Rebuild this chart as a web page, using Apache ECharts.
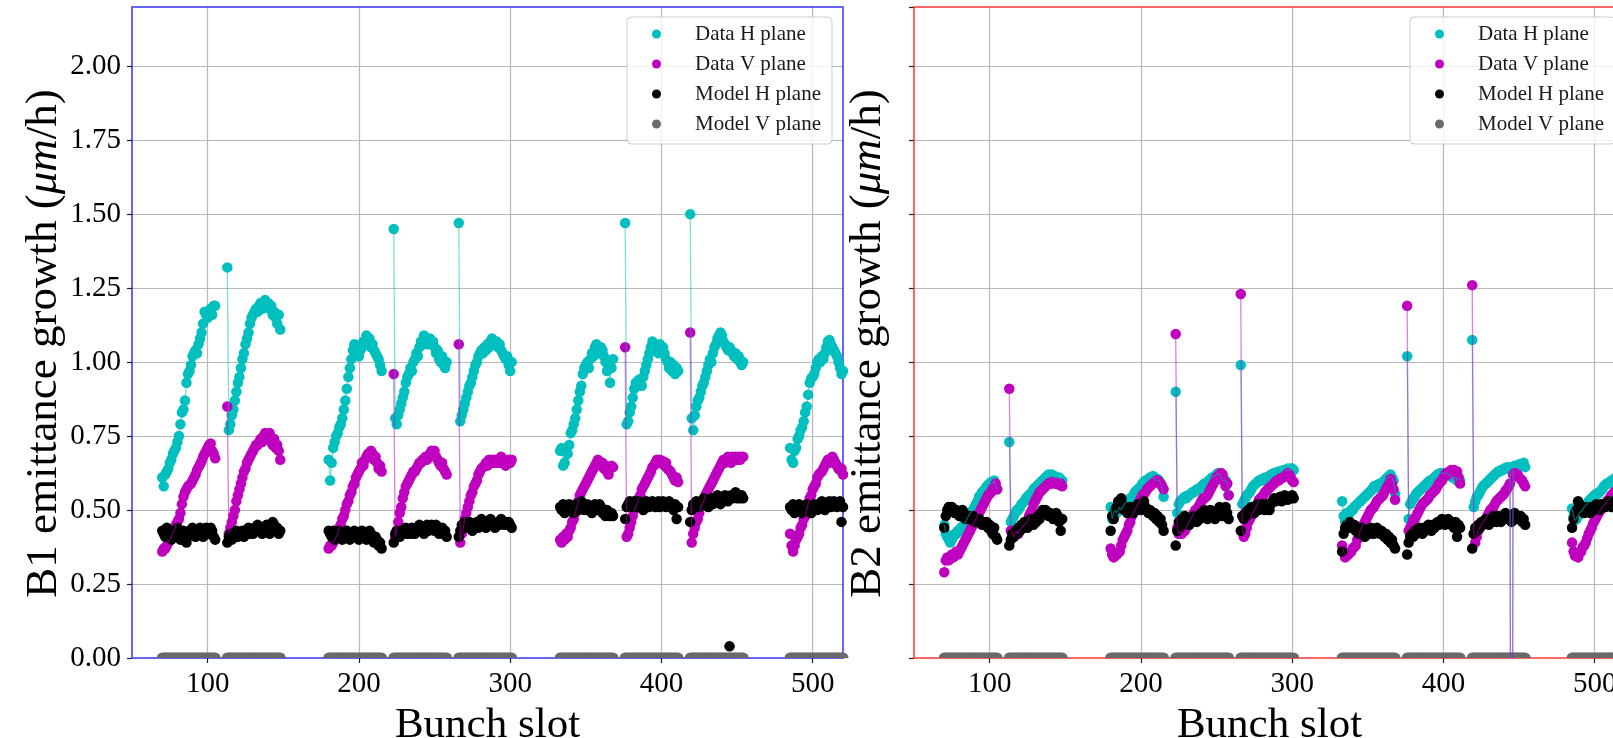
<!DOCTYPE html>
<html>
<head>
<meta charset="utf-8">
<script src="https://cdn.jsdelivr.net/npm/echarts@6/dist/echarts.min.js"></script>
<style>
  html, body { margin: 0; padding: 0; background: #ffffff; }
  #chart { width: 1613px; height: 738px; }
</style>
</head>
<body>
<div id="chart"></div>
<script>
// First bunch slot of each train (36 bunches per train)
const trainStarts = [70, 113, 180, 223, 266, 333, 376, 419, 485];
const xTicks = [100, 200, 300, 400, 500];
const legendNames = ['Data H plane', 'Data V plane', 'Model H plane', 'Model V plane'];

// ---- Beam 1 emittance growth (um/h), one row per train ----
const b1DataH = [
  [0.61,0.58,0.62,0.63,0.64,0.66,0.67,0.69,0.70,0.71,0.73,0.75,0.79,0.83,0.84,0.87,0.93,0.96,0.97,0.99,1.02,1.03,1.04,1.03,1.06,1.08,1.10,1.13,1.17,1.16,1.15,1.17,1.18,1.16,1.19,1.19],
  [1.32,0.77,0.79,0.82,0.84,0.87,0.90,0.93,0.95,0.98,1.01,1.03,1.06,1.08,1.10,1.13,1.15,1.16,1.17,1.18,1.17,1.19,1.20,1.18,1.20,1.21,1.19,1.20,1.18,1.19,1.16,1.17,1.15,1.13,1.16,1.11],
  [0.67,0.60,0.66,0.71,0.73,0.75,0.76,0.78,0.79,0.81,0.84,0.87,0.91,0.95,0.98,1.01,1.04,1.06,1.03,1.05,1.02,1.04,1.05,1.07,1.06,1.09,1.07,1.08,1.05,1.06,1.04,1.03,1.02,1.01,0.99,0.97],
  [1.45,0.81,0.79,0.82,0.84,0.86,0.88,0.90,0.93,0.95,0.96,0.98,0.97,1.00,1.01,1.03,1.02,1.05,1.07,1.06,1.09,1.08,1.06,1.07,1.08,1.06,1.07,1.05,1.03,1.04,1.01,1.00,1.02,0.99,0.98,1.00],
  [1.47,0.80,0.82,0.84,0.86,0.88,0.90,0.92,0.93,0.95,0.97,0.99,1.00,1.02,1.03,1.04,1.03,1.05,1.04,1.06,1.05,1.07,1.08,1.07,1.06,1.07,1.05,1.06,1.04,1.03,1.02,1.01,1.02,0.99,0.97,1.00],
  [0.70,0.71,0.65,0.66,0.70,0.69,0.72,0.76,0.77,0.79,0.81,0.84,0.87,0.90,0.92,0.96,0.98,0.99,1.00,0.98,1.01,1.03,1.02,1.05,1.06,1.04,1.03,1.05,1.04,1.02,1.00,0.97,0.99,0.93,0.98,1.01],
  [1.47,0.79,0.80,0.83,0.85,0.88,0.91,0.93,0.92,0.94,0.93,0.92,0.95,0.97,0.99,1.01,1.03,1.05,1.07,1.06,1.04,1.05,1.03,1.06,1.04,1.05,1.03,1.01,1.00,0.98,1.00,0.97,0.99,0.96,0.98,0.97],
  [1.50,0.81,0.77,0.82,0.85,0.87,0.88,0.90,0.92,0.93,0.95,0.97,0.99,1.01,1.00,1.03,1.05,1.06,1.08,1.09,1.10,1.09,1.07,1.06,1.05,1.04,1.05,1.04,1.03,1.02,1.03,1.01,1.02,1.00,0.99,1.00],
  [0.71,0.67,0.66,0.70,0.71,0.74,0.75,0.77,0.78,0.80,0.83,0.85,0.89,0.93,0.945,0.95,0.96,0.98,1.00,1.01,1.00,1.02,1.01,1.03,1.05,1.07,1.075,1.06,1.05,1.04,1.03,1.02,1.00,0.98,0.96,0.97]
];
const b1DataV = [
  [0.36,0.37,0.37,0.38,0.39,0.40,0.41,0.42,0.43,0.45,0.46,0.47,0.49,0.52,0.545,0.56,0.57,0.58,0.585,0.59,0.60,0.61,0.62,0.635,0.645,0.655,0.665,0.68,0.69,0.70,0.71,0.72,0.725,0.70,0.69,0.675],
  [0.85,0.42,0.44,0.46,0.48,0.50,0.53,0.55,0.57,0.59,0.61,0.63,0.64,0.66,0.67,0.68,0.69,0.70,0.71,0.72,0.72,0.73,0.74,0.73,0.75,0.76,0.74,0.75,0.76,0.73,0.72,0.74,0.71,0.72,0.70,0.67],
  [0.37,0.38,0.38,0.39,0.40,0.41,0.42,0.44,0.45,0.47,0.48,0.50,0.52,0.53,0.55,0.56,0.58,0.59,0.61,0.62,0.63,0.64,0.66,0.65,0.67,0.68,0.69,0.68,0.70,0.69,0.67,0.68,0.66,0.64,0.65,0.63],
  [0.96,0.41,0.43,0.46,0.49,0.51,0.54,0.56,0.58,0.59,0.60,0.61,0.62,0.63,0.63,0.64,0.65,0.66,0.66,0.67,0.67,0.68,0.67,0.68,0.69,0.70,0.69,0.70,0.68,0.67,0.66,0.65,0.66,0.64,0.63,0.62],
  [1.06,0.39,0.42,0.44,0.47,0.49,0.51,0.53,0.55,0.56,0.58,0.59,0.60,0.62,0.63,0.64,0.645,0.65,0.66,0.65,0.67,0.66,0.67,0.66,0.67,0.66,0.67,0.66,0.68,0.66,0.67,0.65,0.66,0.67,0.66,0.67],
  [0.40,0.39,0.41,0.40,0.42,0.41,0.43,0.44,0.46,0.47,0.49,0.51,0.53,0.55,0.56,0.57,0.58,0.59,0.60,0.61,0.62,0.63,0.64,0.65,0.66,0.67,0.66,0.65,0.66,0.64,0.65,0.63,0.62,0.64,0.65,0.645],
  [1.05,0.41,0.42,0.44,0.46,0.48,0.50,0.51,0.52,0.54,0.55,0.57,0.58,0.59,0.60,0.61,0.62,0.63,0.645,0.65,0.66,0.67,0.66,0.67,0.66,0.665,0.65,0.66,0.64,0.635,0.63,0.62,0.61,0.60,0.61,0.595],
  [1.10,0.39,0.42,0.44,0.46,0.47,0.49,0.51,0.52,0.53,0.55,0.56,0.57,0.58,0.59,0.60,0.61,0.62,0.63,0.64,0.65,0.66,0.67,0.66,0.67,0.68,0.67,0.66,0.68,0.67,0.68,0.67,0.68,0.67,0.68,0.68],
  [0.42,0.38,0.36,0.38,0.40,0.41,0.42,0.44,0.45,0.47,0.48,0.50,0.52,0.54,0.55,0.57,0.58,0.59,0.61,0.62,0.625,0.63,0.64,0.65,0.66,0.67,0.66,0.67,0.68,0.67,0.66,0.65,0.64,0.635,0.64,0.62]
];
const b1ModelH = [
  [0.43,0.42,0.41,0.44,0.42,0.43,0.40,0.42,0.41,0.43,0.44,0.42,0.40,0.41,0.43,0.42,0.39,0.41,0.43,0.42,0.44,0.42,0.41,0.43,0.42,0.44,0.43,0.41,0.42,0.44,0.43,0.42,0.44,0.43,0.41,0.40],
  [0.39,0.41,0.42,0.40,0.41,0.42,0.43,0.41,0.42,0.42,0.43,0.41,0.42,0.43,0.44,0.42,0.43,0.42,0.44,0.43,0.45,0.44,0.43,0.42,0.44,0.43,0.45,0.44,0.42,0.44,0.46,0.45,0.43,0.44,0.42,0.43],
  [0.43,0.42,0.41,0.43,0.40,0.42,0.41,0.43,0.42,0.40,0.41,0.42,0.43,0.41,0.40,0.42,0.41,0.43,0.42,0.41,0.40,0.42,0.43,0.41,0.42,0.40,0.41,0.43,0.42,0.40,0.39,0.41,0.40,0.38,0.39,0.37],
  [0.39,0.42,0.43,0.42,0.41,0.43,0.42,0.43,0.44,0.42,0.43,0.42,0.44,0.43,0.42,0.44,0.43,0.45,0.44,0.43,0.42,0.44,0.45,0.43,0.44,0.45,0.44,0.43,0.45,0.44,0.42,0.43,0.44,0.42,0.43,0.41],
  [0.41,0.43,0.45,0.44,0.46,0.45,0.44,0.46,0.45,0.43,0.44,0.45,0.46,0.44,0.45,0.47,0.46,0.45,0.44,0.46,0.45,0.47,0.46,0.45,0.44,0.45,0.46,0.45,0.47,0.46,0.45,0.46,0.45,0.46,0.45,0.44],
  [0.51,0.50,0.52,0.49,0.51,0.50,0.52,0.51,0.50,0.49,0.51,0.52,0.50,0.51,0.53,0.52,0.50,0.51,0.52,0.50,0.51,0.49,0.50,0.52,0.51,0.50,0.52,0.51,0.49,0.50,0.48,0.50,0.49,0.48,0.49,0.48],
  [0.47,0.51,0.52,0.53,0.52,0.51,0.53,0.52,0.51,0.53,0.52,0.51,0.50,0.52,0.53,0.52,0.51,0.52,0.53,0.52,0.51,0.52,0.53,0.51,0.52,0.53,0.52,0.51,0.52,0.53,0.52,0.51,0.50,0.52,0.47,0.51],
  [0.46,0.50,0.52,0.51,0.53,0.52,0.51,0.53,0.52,0.54,0.53,0.52,0.51,0.53,0.54,0.52,0.53,0.54,0.55,0.53,0.52,0.54,0.53,0.55,0.54,0.53,0.04,0.55,0.54,0.55,0.56,0.54,0.55,0.54,0.55,0.54],
  [0.51,0.50,0.52,0.49,0.51,0.50,0.52,0.51,0.49,0.50,0.51,0.52,0.50,0.51,0.49,0.50,0.52,0.51,0.50,0.52,0.51,0.53,0.52,0.50,0.51,0.52,0.53,0.51,0.52,0.53,0.52,0.51,0.52,0.53,0.46,0.51]
];
const b1ModelV = [
  [0,0,0,0,0,0,0,0,0,0,0,0,0,0,0,0,0,0,0,0,0,0,0,0,0,0,0,0,0,0,0,0,0,0,0,0],
  [0,0,0,0,0,0,0,0,0,0,0,0,0,0,0,0,0,0,0,0,0,0,0,0,0,0,0,0,0,0,0,0,0,0,0,0],
  [0,0,0,0,0,0,0,0,0,0,0,0,0,0,0,0,0,0,0,0,0,0,0,0,0,0,0,0,0,0,0,0,0,0,0,0],
  [0,0,0,0,0,0,0,0,0,0,0,0,0,0,0,0,0,0,0,0,0,0,0,0,0,0,0,0,0,0,0,0,0,0,0,0],
  [0,0,0,0,0,0,0,0,0,0,0,0,0,0,0,0,0,0,0,0,0,0,0,0,0,0,0,0,0,0,0,0,0,0,0,0],
  [0,0,0,0,0,0,0,0,0,0,0,0,0,0,0,0,0,0,0,0,0,0,0,0,0,0,0,0,0,0,0,0,0,0,0,0],
  [0,0,0,0,0,0,0,0,0,0,0,0,0,0,0,0,0,0,0,0,0,0,0,0,0,0,0,0,0,0,0,0,0,0,0,0],
  [0,0,0,0,0,0,0,0,0,0,0,0,0,0,0,0,0,0,0,0,0,0,0,0,0,0,0,0,0,0,0,0,0,0,0,0],
  [0,0,0,0,0,0,0,0,0,0,0,0,0,0,0,0,0,0,0,0,0,0,0,0,0,0,0,0,0,0,0,0,0,0,0,0]
];

// ---- Beam 2 emittance growth (um/h) ----
const b2DataH = [
  [0.45,0.42,0.41,0.40,0.39,0.40,0.41,0.42,0.42,0.43,0.43,0.44,0.44,0.45,0.46,0.47,0.48,0.49,0.495,0.50,0.51,0.52,0.53,0.545,0.55,0.56,0.565,0.57,0.58,0.585,0.59,0.595,0.59,0.60,0.58,0.57],
  [0.73,0.46,0.47,0.48,0.49,0.50,0.50,0.51,0.52,0.525,0.53,0.54,0.545,0.55,0.555,0.56,0.57,0.575,0.58,0.585,0.59,0.595,0.60,0.605,0.61,0.615,0.62,0.615,0.62,0.61,0.615,0.61,0.605,0.61,0.60,0.60],
  [0.51,0.47,0.49,0.50,0.49,0.50,0.51,0.50,0.51,0.52,0.52,0.53,0.53,0.54,0.535,0.55,0.56,0.565,0.57,0.575,0.58,0.59,0.595,0.60,0.60,0.605,0.61,0.61,0.615,0.61,0.60,0.605,0.60,0.59,0.58,0.545],
  [0.90,0.49,0.52,0.53,0.535,0.54,0.545,0.54,0.55,0.55,0.555,0.56,0.56,0.565,0.57,0.57,0.575,0.58,0.585,0.59,0.59,0.595,0.60,0.605,0.61,0.61,0.615,0.62,0.625,0.62,0.61,0.60,0.605,0.60,0.59,0.55],
  [0.99,0.52,0.53,0.54,0.55,0.555,0.56,0.57,0.58,0.585,0.59,0.595,0.60,0.60,0.605,0.60,0.61,0.605,0.61,0.615,0.62,0.62,0.625,0.62,0.625,0.63,0.625,0.63,0.635,0.63,0.635,0.64,0.635,0.64,0.64,0.635],
  [0.53,0.48,0.46,0.49,0.48,0.49,0.50,0.50,0.51,0.515,0.52,0.525,0.53,0.535,0.54,0.545,0.55,0.555,0.56,0.565,0.57,0.58,0.575,0.585,0.58,0.59,0.59,0.595,0.60,0.605,0.61,0.615,0.62,0.61,0.60,0.555],
  [1.02,0.47,0.52,0.53,0.54,0.545,0.555,0.56,0.565,0.57,0.575,0.58,0.585,0.59,0.595,0.60,0.60,0.605,0.61,0.615,0.62,0.62,0.625,0.62,0.625,0.62,0.625,0.62,0.62,0.615,0.61,0.615,0.61,0.60,0.61,0.60],
  [1.075,0.51,0.53,0.545,0.55,0.56,0.57,0.58,0.585,0.59,0.595,0.60,0.605,0.61,0.615,0.62,0.625,0.63,0.63,0.635,0.635,0.64,0.64,0.645,0.64,0.645,-2,0.645,0.65,0.645,0.65,0.655,0.65,0.655,0.66,0.645],
  [0.505,0.48,0.465,0.47,0.48,0.49,0.495,0.50,0.51,0.515,0.52,0.53,0.535,0.54,0.545,0.55,0.555,0.555,0.56,0.565,0.57,0.58,0.585,0.59,0.59,0.595,0.60,0.60,0.605,0.61,0.61,0.615,0.61,0.615,0.62,0.615]
];
const b2DataV = [
  [0.29,0.33,0.34,0.33,0.34,0.35,0.34,0.35,0.36,0.35,0.36,0.37,0.38,0.39,0.40,0.41,0.42,0.43,0.44,0.45,0.46,0.47,0.48,0.49,0.50,0.51,0.52,0.53,0.54,0.55,0.555,0.56,0.57,0.58,0.59,0.57],
  [0.91,0.43,0.42,0.41,0.42,0.43,0.42,0.43,0.44,0.44,0.45,0.45,0.46,0.48,0.49,0.50,0.52,0.53,0.54,0.55,0.56,0.565,0.57,0.575,0.58,0.585,0.59,0.59,0.595,0.59,0.595,0.59,0.59,0.585,0.59,0.58],
  [0.37,0.35,0.34,0.345,0.35,0.355,0.36,0.38,0.40,0.41,0.42,0.43,0.45,0.46,0.48,0.49,0.50,0.51,0.52,0.53,0.54,0.55,0.555,0.56,0.57,0.575,0.58,0.585,0.59,0.595,0.60,0.60,0.595,0.59,0.58,0.57],
  [1.095,0.44,0.42,0.43,0.42,0.43,0.43,0.44,0.45,0.46,0.47,0.48,0.49,0.50,0.50,0.51,0.52,0.53,0.54,0.54,0.545,0.55,0.56,0.57,0.58,0.59,0.60,0.61,0.615,0.62,0.625,0.62,0.60,0.58,0.59,0.55],
  [1.23,0.43,0.41,0.42,0.44,0.46,0.47,0.48,0.49,0.50,0.51,0.52,0.535,0.54,0.545,0.55,0.56,0.565,0.57,0.575,0.58,0.585,0.59,0.595,0.60,0.60,0.605,0.61,0.61,0.615,0.62,0.625,0.62,0.61,0.60,0.595],
  [0.38,0.36,0.34,0.345,0.35,0.355,0.36,0.37,0.375,0.38,0.40,0.41,0.43,0.445,0.45,0.46,0.47,0.48,0.49,0.50,0.505,0.51,0.52,0.53,0.535,0.54,0.545,0.55,0.56,0.57,0.58,0.59,0.605,0.59,0.57,0.535],
  [1.19,0.43,0.44,0.45,0.465,0.47,0.48,0.49,0.50,0.51,0.52,0.525,0.53,0.535,0.54,0.55,0.555,0.56,0.565,0.57,0.58,0.59,0.595,0.60,0.61,0.62,0.625,0.62,0.63,0.635,0.63,0.635,0.625,0.63,0.61,0.59],
  [1.26,0.42,0.39,0.41,0.43,0.44,0.45,0.455,0.465,0.47,0.48,0.49,0.50,0.505,0.51,0.52,0.53,0.535,0.54,0.545,0.55,0.555,0.565,0.57,0.58,0.59,-2,0.62,0.625,0.615,0.62,0.61,0.605,0.60,0.59,0.58],
  [0.39,0.36,0.345,0.35,0.34,0.355,0.36,0.375,0.38,0.39,0.405,0.42,0.43,0.44,0.455,0.465,0.475,0.485,0.495,0.50,0.51,0.515,0.52,0.53,0.535,0.54,0.55,0.555,0.56,0.565,0.57,0.575,0.58,0.585,0.58,0.59]
];
const b2ModelH = [
  [0.44,0.48,0.50,0.51,0.50,0.51,0.50,0.49,0.50,0.49,0.48,0.49,0.50,0.49,0.47,0.48,0.47,0.48,0.47,0.48,0.46,0.47,0.46,0.47,0.46,0.45,0.46,0.45,0.46,0.44,0.45,0.43,0.42,0.44,0.41,0.40],
  [0.38,0.40,0.42,0.41,0.43,0.42,0.44,0.43,0.45,0.44,0.46,0.45,0.44,0.46,0.47,0.46,0.45,0.47,0.46,0.48,0.47,0.49,0.50,0.49,0.50,0.49,0.48,0.49,0.48,0.47,0.48,0.49,0.48,0.46,0.43,0.47],
  [0.43,0.48,0.47,0.50,0.51,0.53,0.52,0.54,0.52,0.50,0.51,0.49,0.50,0.51,0.50,0.49,0.50,0.51,0.52,0.51,0.50,0.52,0.53,0.51,0.50,0.49,0.50,0.49,0.48,0.49,0.47,0.48,0.46,0.47,0.45,0.43],
  [0.38,0.43,0.46,0.44,0.47,0.45,0.48,0.46,0.47,0.45,0.47,0.46,0.48,0.47,0.46,0.48,0.47,0.49,0.48,0.50,0.49,0.47,0.49,0.50,0.48,0.49,0.47,0.49,0.50,0.51,0.49,0.48,0.50,0.51,0.49,0.47],
  [0.43,0.48,0.47,0.49,0.48,0.50,0.49,0.51,0.50,0.49,0.51,0.52,0.50,0.51,0.52,0.51,0.50,0.52,0.51,0.50,0.52,0.53,0.54,0.53,0.535,0.54,0.545,0.53,0.54,0.55,0.54,0.535,0.545,0.54,0.55,0.54],
  [0.36,0.42,0.44,0.45,0.44,0.46,0.45,0.44,0.45,0.43,0.44,0.42,0.43,0.44,0.43,0.41,0.42,0.43,0.42,0.44,0.43,0.42,0.43,0.44,0.43,0.42,0.43,0.42,0.41,0.42,0.40,0.41,0.39,0.40,0.38,0.37],
  [0.35,0.39,0.41,0.42,0.41,0.43,0.42,0.43,0.44,0.43,0.42,0.44,0.43,0.44,0.45,0.44,0.43,0.45,0.44,0.45,0.46,0.45,0.46,0.47,0.46,0.45,0.46,0.47,0.46,0.45,0.46,0.44,0.46,0.41,0.45,0.44],
  [0.37,0.42,0.44,0.43,0.45,0.44,0.46,0.45,0.46,0.47,0.46,0.45,0.47,0.46,0.48,0.47,0.46,0.48,0.47,0.46,0.48,0.47,0.49,0.48,0.47,0.48,0.46,0.48,0.49,0.47,0.48,0.47,0.48,0.46,0.47,0.45],
  [0.44,0.47,0.49,0.50,0.53,0.52,0.51,0.50,0.49,0.50,0.51,0.50,0.49,0.51,0.50,0.51,0.52,0.51,0.50,0.52,0.51,0.52,0.51,0.52,0.53,0.52,0.51,0.52,0.53,0.52,0.51,0.53,0.52,0.51,0.52,0.53]
];
const b2ModelV = [
  [0,0,0,0,0,0,0,0,0,0,0,0,0,0,0,0,0,0,0,0,0,0,0,0,0,0,0,0,0,0,0,0,0,0,0,0],
  [0,0,0,0,0,0,0,0,0,0,0,0,0,0,0,0,0,0,0,0,0,0,0,0,0,0,0,0,0,0,0,0,0,0,0,0],
  [0,0,0,0,0,0,0,0,0,0,0,0,0,0,0,0,0,0,0,0,0,0,0,0,0,0,0,0,0,0,0,0,0,0,0,0],
  [0,0,0,0,0,0,0,0,0,0,0,0,0,0,0,0,0,0,0,0,0,0,0,0,0,0,0,0,0,0,0,0,0,0,0,0],
  [0,0,0,0,0,0,0,0,0,0,0,0,0,0,0,0,0,0,0,0,0,0,0,0,0,0,0,0,0,0,0,0,0,0,0,0],
  [0,0,0,0,0,0,0,0,0,0,0,0,0,0,0,0,0,0,0,0,0,0,0,0,0,0,0,0,0,0,0,0,0,0,0,0],
  [0,0,0,0,0,0,0,0,0,0,0,0,0,0,0,0,0,0,0,0,0,0,0,0,0,0,0,0,0,0,0,0,0,0,0,0],
  [0,0,0,0,0,0,0,0,0,0,0,0,0,0,0,0,0,0,0,0,0,0,0,0,0,0,0,0,0,0,0,0,0,0,0,0],
  [0,0,0,0,0,0,0,0,0,0,0,0,0,0,0,0,0,0,0,0,0,0,0,0,0,0,0,0,0,0,0,0,0,0,0,0]
];

const SERIF = "'Liberation Serif', 'Times New Roman', 'DejaVu Serif', serif";
const COLORS = ['#00bfbf', '#bf00bf', '#000000', '#6a6a6a'];

// [slot, value] pairs for the markers
function toPoints(trains) {
  const pts = [];
  trains.forEach((vals, t) => vals.forEach((v, i) => pts.push([trainStarts[t] + i, v])));
  return pts;
}
// same, with a break after every train so the trace does not bridge the gaps
function toTrace(trains) {
  const pts = [];
  trains.forEach((vals, t) => {
    vals.forEach((v, i) => pts.push([trainStarts[t] + i, v]));
    pts.push([trainStarts[t] + vals.length, '-']);
  });
  return pts;
}

const panels = [
  { beam: 'B1', left: 132, frame: 'rgba(0,0,255,0.6)', legendLeft: 627, showY: true, nameGap: 62,
    sets: [b1DataH, b1DataV, b1ModelH, b1ModelV] },
  { beam: 'B2', left: 914, frame: 'rgba(255,0,0,0.6)', legendLeft: 1410, showY: false, nameGap: 23,
    sets: [b2DataH, b2DataV, b2ModelH, b2ModelV] }
];

const grid = [], xAxis = [], yAxis = [], legend = [], series = [];

panels.forEach((p, k) => {
  grid.push({
    left: p.left, top: 7, width: 711, height: 651,
    outerBoundsMode: 'none', containLabel: false,
    show: true, borderColor: p.frame, borderWidth: 2, backgroundColor: 'transparent', z: 1
  });
  xAxis.push({
    type: 'value', gridIndex: k, min: 50, max: 520, minInterval: 100, maxInterval: 100,
    name: 'Bunch slot', nameLocation: 'middle', nameGap: 30,
    nameTextStyle: { fontFamily: SERIF, fontSize: 43, color: '#000' },
    axisLine: { show: false },
    axisTick: { show: true, length: 5, lineStyle: { color: '#222', width: 1.2 } },
    axisLabel: {
      margin: 12, fontFamily: SERIF, fontSize: 29, color: '#000',
      showMinLabel: false, showMaxLabel: false,
      formatter: v => (xTicks.indexOf(v) >= 0 ? String(v) : '')
    },
    splitLine: { show: true, showMinLine: false, showMaxLine: false, lineStyle: { color: '#b8b8b8', width: 1.2 } }
  });
  yAxis.push({
    type: 'value', gridIndex: k, min: 0, max: 2.2, interval: 0.25,
    name: '{r|' + p.beam + ' emittance growth (}{i|μm}{r|/h)}',
    nameLocation: 'middle', nameRotate: 90, nameGap: p.nameGap,
    nameTextStyle: {
      fontFamily: SERIF, fontSize: 45, color: '#000', padding: [0, 22, 0, 0],
      rich: {
        r: { fontFamily: SERIF, fontSize: 45, color: '#000' },
        i: { fontFamily: SERIF, fontSize: 45, color: '#000', fontStyle: 'italic' }
      }
    },
    axisLine: { show: false },
    axisTick: { show: true, length: 5, lineStyle: { color: '#222', width: 1.2 } },
    axisLabel: {
      show: p.showY, margin: 11, fontFamily: SERIF, fontSize: 29, color: '#000',
      showMaxLabel: false, formatter: v => v.toFixed(2)
    },
    splitLine: { show: true, showMinLine: false, showMaxLine: false, lineStyle: { color: '#b8b8b8', width: 1.2 } }
  });
  legend.push({
    data: legendNames, orient: 'vertical', left: p.legendLeft, top: 17,
    icon: 'circle', itemWidth: 9, itemHeight: 9, itemGap: 8,
    padding: [6, 11, 9, 25],
    backgroundColor: 'rgba(255,255,255,0.8)', borderColor: '#cccccc', borderWidth: 1, borderRadius: 4,
    textStyle: { fontFamily: SERIF, fontSize: 21, color: '#1a1a1a', lineHeight: 22, padding: [0, 0, 0, 29] },
    selectedMode: false
  });

  // markers
  p.sets.forEach((set, s) => {
    const isFloor = s === 3;
    series.push({
      type: 'scatter', name: legendNames[s], xAxisIndex: k, yAxisIndex: k,
      data: toPoints(set),
      symbol: isFloor ? 'path://M0,10 A10,10 0 0 1 20,10 Z' : 'circle',
      symbolSize: isFloor ? [11, 5.5] : 10.5,
      symbolOffset: isFloor ? [0, -2.75] : [0, 0],
      itemStyle: { color: COLORS[s], opacity: 1 },
      clip: true, silent: true
    });
  });
  // thin traces of the measured data, drawn above the markers
  [0, 1].forEach(s => {
    series.push({
      type: 'line', name: legendNames[s] + ' trace', xAxisIndex: k, yAxisIndex: k,
      data: toTrace(p.sets[s]),
      showSymbol: false, symbol: 'none', connectNulls: false, clip: true, silent: true,
      lineStyle: { color: COLORS[s], width: 1.3, opacity: 0.5 }
    });
  });
});

const chart = echarts.init(document.getElementById('chart'), null, { renderer: 'canvas' });
chart.setOption({
  animation: false,
  backgroundColor: '#ffffff',
  grid, xAxis, yAxis, legend, series
});
</script>
</body>
</html>
